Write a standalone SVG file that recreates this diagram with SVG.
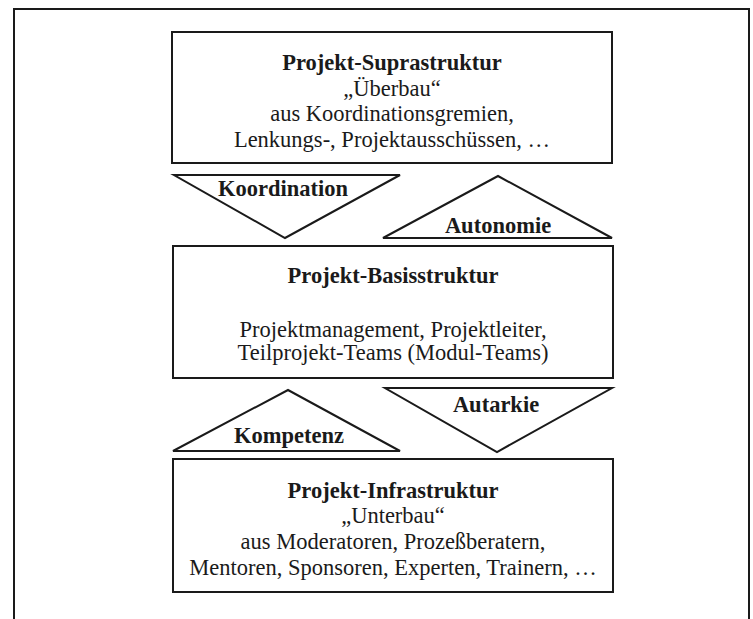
<svg xmlns="http://www.w3.org/2000/svg" width="753" height="619" viewBox="0 0 753 619">
<style>
  .ln { fill: none; stroke: #1a1a1a; stroke-width: 2; stroke-linejoin: miter; }
  .box { fill: #ffffff; stroke: #1a1a1a; stroke-width: 2; }
  .tri { fill: #ffffff; stroke: #1a1a1a; stroke-width: 2; stroke-linejoin: miter; }
  text { font-family: "Liberation Serif", "Times New Roman", serif; font-size: 22.5px; fill: #1a1a1a; text-anchor: middle; }
  .b { font-weight: bold; }
</style>
<rect x="0" y="0" width="753" height="619" fill="#ffffff"/>
<g id="frame">
  <polyline class="ln" points="14,619 14,9 749,9 749,619"/>
</g>
<g id="connectors">
  <g id="koordination">
    <polygon class="tri" points="174,175 400,175 285,238"/>
    <text class="b" x="283" y="196">Koordination</text>
  </g>
  <g id="autonomie">
    <polygon class="tri" points="498,176 612,238 383,238"/>
    <text class="b" x="498" y="233">Autonomie</text>
  </g>
  <g id="kompetenz">
    <polygon class="tri" points="288,390 400,451 173,451"/>
    <text class="b" x="289" y="443">Kompetenz</text>
  </g>
  <g id="autarkie">
    <polygon class="tri" points="385,388 612,388 497,452"/>
    <text class="b" x="496" y="412">Autarkie</text>
  </g>
</g>
<g id="suprastruktur">
  <rect class="box" x="172" y="32" width="440" height="131"/>
  <text class="b" x="392" y="70">Projekt-Suprastruktur</text>
  <text x="392" y="96">„Überbau“</text>
  <text x="392" y="121">aus Koordinationsgremien,</text>
  <text x="392" y="147">Lenkungs-, Projektausschüssen, …</text>
</g>
<g id="basisstruktur">
  <rect class="box" x="173" y="246" width="440" height="132"/>
  <text class="b" x="393" y="283">Projekt-Basisstruktur</text>
  <text x="393" y="337">Projektmanagement, Projektleiter,</text>
  <text x="393" y="360">Teilprojekt-Teams (Modul-Teams)</text>
</g>
<g id="infrastruktur">
  <rect class="box" x="173" y="459" width="440" height="133"/>
  <text class="b" x="393" y="498">Projekt-Infrastruktur</text>
  <text x="393" y="523">„Unterbau“</text>
  <text x="393" y="549">aus Moderatoren, Prozeßberatern,</text>
  <text x="393" y="575">Mentoren, Sponsoren, Experten, Trainern, …</text>
</g>
</svg>
